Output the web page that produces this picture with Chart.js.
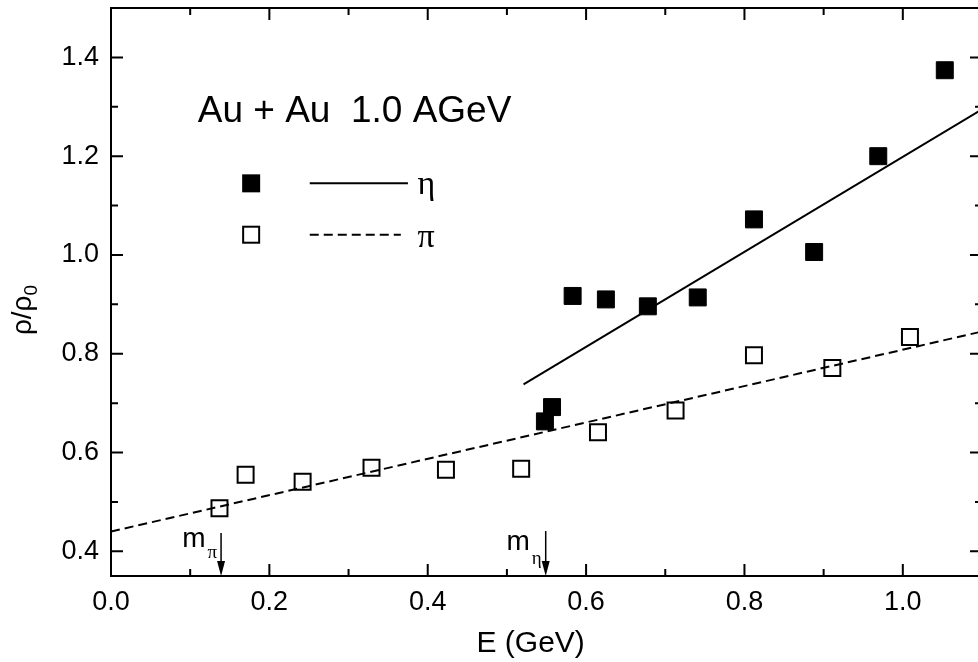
<!DOCTYPE html>
<html>
<head>
<meta charset="utf-8">
<script src="https://cdn.jsdelivr.net/npm/chart.js@4.4.0/dist/chart.umd.min.js"></script>
<style>
  html, body { margin: 0; padding: 0; overflow: hidden; background: #fff; }
  #wrap { width: 990px; height: 662px; }
</style>
</head>
<body>
<div id="wrap"><canvas id="myChart" width="990" height="662"></canvas></div>
<script>
// eta points (filled squares)
const etaE = [0.548, 0.557, 0.583, 0.625, 0.678, 0.741, 0.812, 0.888, 0.969, 1.053];
const etaRho = [0.663, 0.692, 0.917, 0.910, 0.896, 0.914, 1.072, 1.006, 1.200, 1.374];
// pi points (open squares)
const piE = [0.137, 0.170, 0.242, 0.329, 0.423, 0.518, 0.615, 0.713, 0.812, 0.911, 1.009];
const piRho = [0.487, 0.555, 0.541, 0.569, 0.565, 0.567, 0.641, 0.685, 0.797, 0.771, 0.834];
// straight lines, end points
const etaLineE = [0.521, 1.1];
const etaLineRho = [0.738, 1.295];
const piLineE = [0.0, 1.1];
const piLineRho = [0.440, 0.845];

// ticks
const xMajor = [0.0, 0.2, 0.4, 0.6, 0.8, 1.0];
const xMinor = [0.1, 0.3, 0.5, 0.7, 0.9];
const yMajor = [0.4, 0.6, 0.8, 1.0, 1.2, 1.4];
const yMinor = [0.5, 0.7, 0.9, 1.1, 1.3];

// particle masses (GeV) for the arrows
const mPi = 0.139;
const mEta = 0.549;

const sans = "'Liberation Sans', Arial, sans-serif";
const serif = "'Liberation Serif', 'Times New Roman', serif";

function toPoints(xs, ys) {
  return xs.map((x, i) => ({ x: x, y: ys[i] }));
}

function drawArrow(ctx, x, yTop, yBottom) {
  ctx.lineWidth = 1.5;
  ctx.beginPath();
  ctx.moveTo(x, yTop);
  ctx.lineTo(x, yBottom - 12);
  ctx.stroke();
  ctx.beginPath();
  ctx.moveTo(x - 4, yBottom - 15);
  ctx.lineTo(x + 4, yBottom - 15);
  ctx.lineTo(x, yBottom);
  ctx.closePath();
  ctx.fill();
}

function massLabel(ctx, x, baseY, sub, subDy) {
  ctx.textAlign = "left";
  ctx.textBaseline = "alphabetic";
  ctx.font = "19px " + serif;
  const sw = ctx.measureText(sub).width;
  const subLeft = x - 4 - sw;
  ctx.fillText(sub, subLeft, baseY + subDy);
  ctx.font = "28px " + sans;
  const mw = ctx.measureText("m").width;
  ctx.fillText("m", subLeft - 2 - mw, baseY);
}

const framePlugin = {
  id: "frame",
  afterDraw(chart) {
    const ctx = chart.ctx;
    const a = chart.chartArea;
    const sx = chart.scales.x;
    const sy = chart.scales.y;
    ctx.save();
    ctx.strokeStyle = "#000";
    ctx.fillStyle = "#000";

    // frame
    ctx.lineWidth = 2;
    ctx.strokeRect(a.left, a.top, a.right - a.left, a.bottom - a.top);

    // inward ticks on all four sides
    function xTick(v, len) {
      const p = sx.getPixelForValue(v);
      ctx.beginPath();
      ctx.moveTo(p, a.bottom); ctx.lineTo(p, a.bottom - len);
      ctx.moveTo(p, a.top); ctx.lineTo(p, a.top + len);
      ctx.stroke();
    }
    function yTick(v, len) {
      const p = sy.getPixelForValue(v);
      ctx.beginPath();
      ctx.moveTo(a.left, p); ctx.lineTo(a.left + len, p);
      ctx.moveTo(a.right, p); ctx.lineTo(a.right - len, p);
      ctx.stroke();
    }
    xMajor.forEach((v) => xTick(v, 12));
    xMinor.forEach((v) => xTick(v, 7));
    yMajor.forEach((v) => yTick(v, 12));
    yMinor.forEach((v) => yTick(v, 7));

    // header
    ctx.font = "37px " + sans;
    ctx.textAlign = "left";
    ctx.textBaseline = "alphabetic";
    ctx.fillText("Au + Au  1.0 AGeV", sx.getPixelForValue(0.1095), sy.getPixelForValue(1.2695));

    // legend
    const lx = sx.getPixelForValue(0.177);
    const l1 = sy.getPixelForValue(1.145);
    const l2 = sy.getPixelForValue(1.041);
    const lineA = sx.getPixelForValue(0.251);
    ctx.fillRect(lx - 9, l1 - 9, 18, 18);
    ctx.lineWidth = 2;
    ctx.strokeRect(lx - 8, l2 - 8, 16, 16);
    ctx.beginPath();
    ctx.moveTo(lineA, l1); ctx.lineTo(sx.getPixelForValue(0.375), l1);
    ctx.stroke();
    ctx.setLineDash([9, 5]);
    ctx.beginPath();
    ctx.moveTo(lineA, l2); ctx.lineTo(sx.getPixelForValue(0.366), l2);
    ctx.stroke();
    ctx.setLineDash([]);
    ctx.font = "34px " + serif;
    const gx = sx.getPixelForValue(0.387);
    ctx.fillText("\u03b7", gx, l1 + 11);
    ctx.fillText("\u03c0", gx, l2 + 12);

    // mass arrows
    const arrowTop = sy.getPixelForValue(0.437);
    const xp = sx.getPixelForValue(mPi);
    const xe = sx.getPixelForValue(mEta);
    drawArrow(ctx, xp, arrowTop, a.bottom);
    drawArrow(ctx, xe, arrowTop - 2, a.bottom);
    massLabel(ctx, xp, a.bottom - 29, "\u03c0", 11);
    massLabel(ctx, xe, a.bottom - 26, "\u03b7", 14);

    // x title
    ctx.font = "30px " + sans;
    ctx.textAlign = "center";
    ctx.fillText("E (GeV)", sx.getPixelForValue(0.53), chart.height - 10);

    // y title (rotated)
    ctx.save();
    ctx.translate(31, 310);
    ctx.rotate(-Math.PI / 2);
    ctx.textAlign = "left";
    ctx.font = "28px " + sans;
    const w1 = ctx.measureText("\u03c1/\u03c1").width;
    ctx.font = "19px " + sans;
    const w2 = ctx.measureText("0").width;
    const start = -(w1 + w2) / 2;
    ctx.font = "28px " + sans;
    ctx.fillText("\u03c1/\u03c1", start, 0);
    ctx.font = "19px " + sans;
    ctx.fillText("0", start + w1, 6);
    ctx.restore();

    ctx.restore();
  }
};

const data = {
  datasets: [
    {
      label: "eta",
      data: toPoints(etaE, etaRho),
      pointStyle: "rect",
      pointRadius: 12,
      backgroundColor: "#000",
      borderColor: "#000",
      borderWidth: 1,
      order: 0
    },
    {
      label: "pi",
      data: toPoints(piE, piRho),
      pointStyle: "rect",
      pointRadius: 11.3,
      backgroundColor: "rgba(0,0,0,0)",
      borderColor: "#000",
      borderWidth: 2,
      order: 0
    },
    {
      type: "line",
      label: "eta line",
      data: toPoints(etaLineE, etaLineRho),
      borderColor: "#000",
      borderWidth: 2,
      pointRadius: 0,
      fill: false,
      order: 1
    },
    {
      type: "line",
      label: "pi line",
      data: toPoints(piLineE, piLineRho),
      borderColor: "#000",
      borderWidth: 2,
      borderDash: [9, 5],
      pointRadius: 0,
      fill: false,
      order: 1
    }
  ]
};

const tickFont = { family: sans, size: 27 };

const config = {
  type: "scatter",
  data: data,
  options: {
    responsive: false,
    animation: false,
    layout: { autoPadding: false, padding: { top: 8, right: 8, left: 0, bottom: 0 } },
    plugins: { legend: { display: false }, tooltip: { enabled: false } },
    scales: {
      x: {
        type: "linear",
        min: 0,
        max: 1.1,
        grid: { display: false, drawTicks: false },
        border: { display: false },
        afterBuildTicks: (s) => { s.ticks = xMajor.map((v) => ({ value: v })); },
        afterFit: (s) => { s.height = 86; s.paddingLeft = 0; s.paddingRight = 0; },
        ticks: {
          padding: 10,
          color: "#000",
          font: tickFont,
          maxRotation: 0,
          autoSkip: false,
          callback: (v) => v.toFixed(1)
        }
      },
      y: {
        type: "linear",
        min: 0.35,
        max: 1.5,
        grid: { display: false, drawTicks: false },
        border: { display: false },
        afterBuildTicks: (s) => { s.ticks = yMajor.map((v) => ({ value: v })); },
        afterFit: (s) => { s.width = 111; s.paddingTop = 0; s.paddingBottom = 0; },
        ticks: {
          padding: 12,
          color: "#000",
          font: tickFont,
          autoSkip: false,
          callback: (v) => v.toFixed(1)
        }
      }
    }
  },
  plugins: [framePlugin]
};

const myChart = new Chart(document.getElementById("myChart"), config);
</script>
</body>
</html>
